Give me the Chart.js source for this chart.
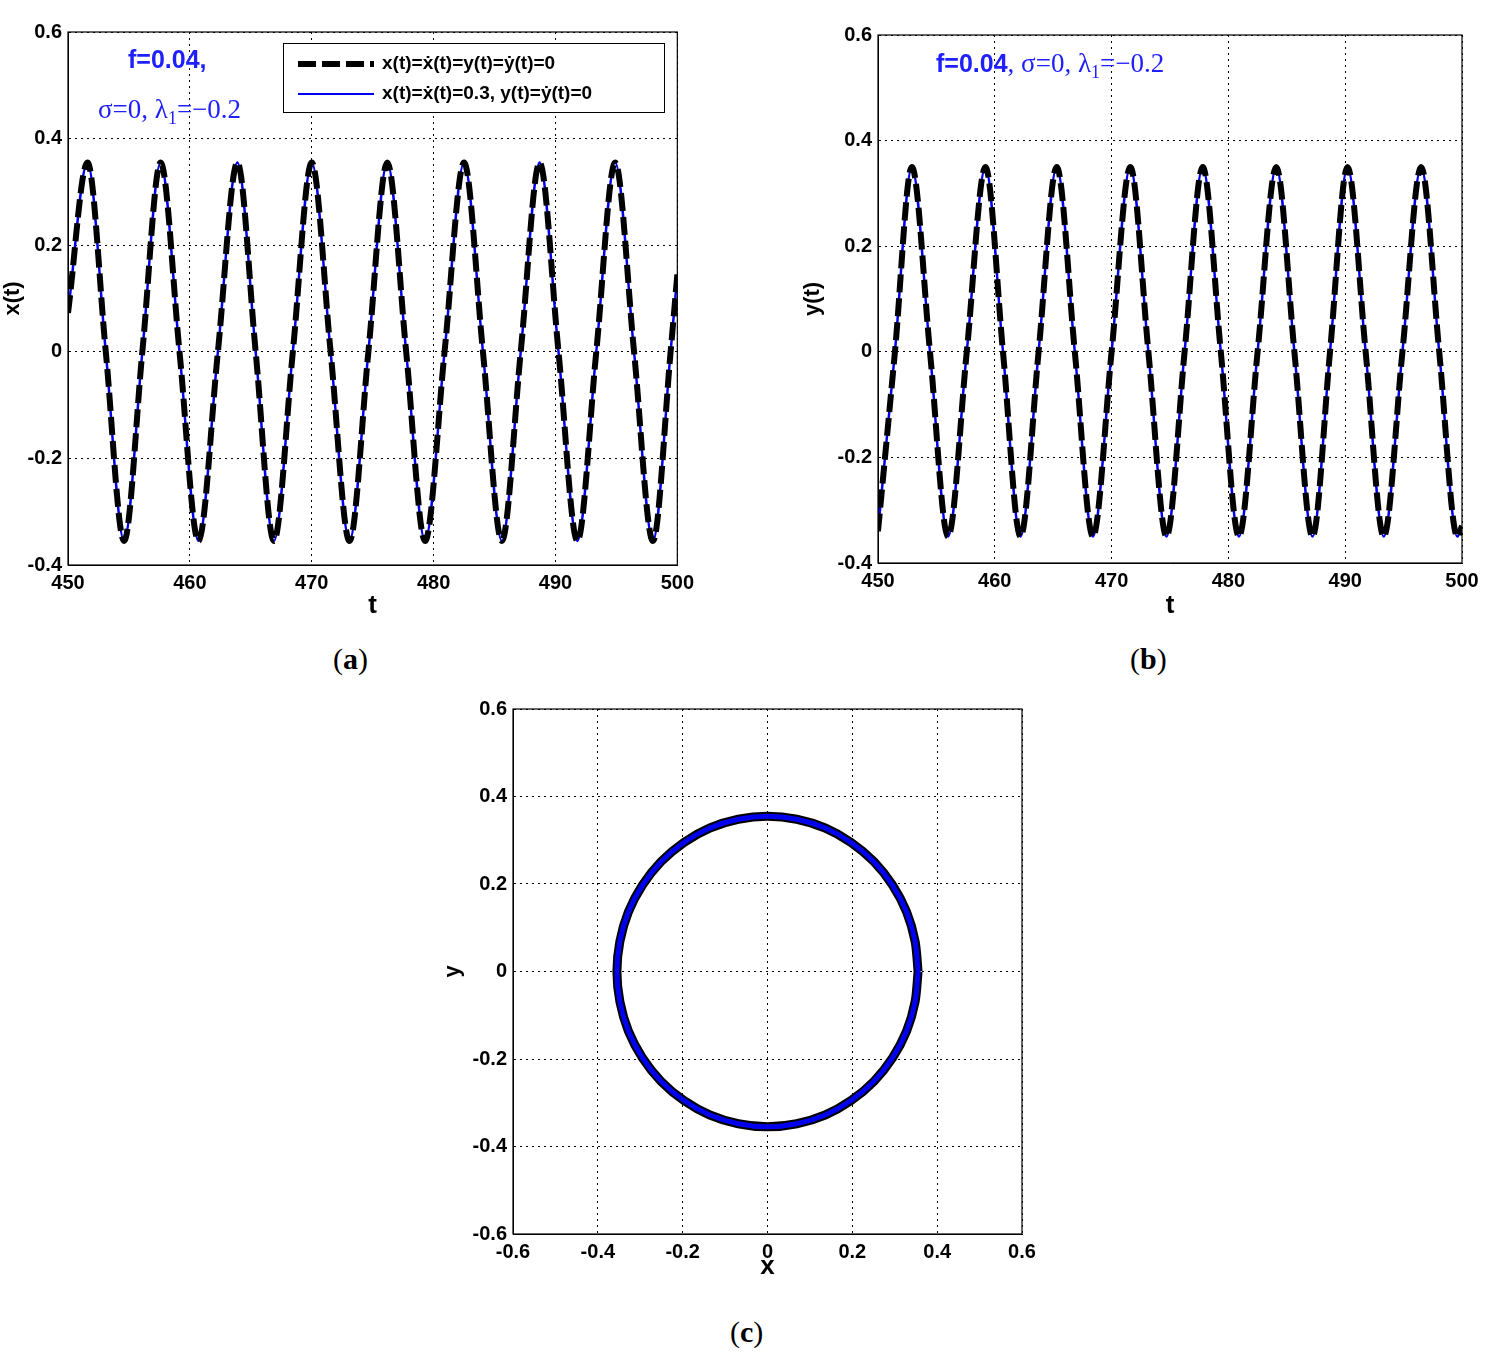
<!DOCTYPE html>
<html><head><meta charset="utf-8">
<script src="https://cdn.jsdelivr.net/npm/chart.js@4"></script>
<style>
body{margin:0;background:#fff;width:1500px;height:1367px;position:relative;font-family:"Liberation Sans",Arial,sans-serif;}
canvas{position:absolute;}
.cap{position:absolute;font-family:"Liberation Serif",serif;font-size:30px;}
.ann{position:absolute;color:#2020ff;white-space:nowrap;}
.leg{position:absolute;left:283px;top:43px;width:380px;height:68px;border:1px solid #000;background:#fff;font-weight:bold;font-size:19px;}
.leg div{position:absolute;left:98px;}
</style></head><body>
<canvas id="ca" width="700" height="625" style="left:0;top:0"></canvas>
<canvas id="cb" width="700" height="625" style="left:800px;top:0"></canvas>
<canvas id="cc" width="620" height="600" style="left:440px;top:686px"></canvas>
<div class="cap" style="left:333px;top:642px">(<b>a</b>)</div>
<div class="cap" style="left:1130px;top:642px">(<b>b</b>)</div>
<div class="cap" style="left:730px;top:1315px">(<b>c</b>)</div>
<div class="ann" style="left:128px;top:45px;font-weight:bold;font-size:25px">f=0.04,</div>
<div class="ann" style="left:98px;top:94px;font-family:'Liberation Serif',serif;font-size:27px">σ=0, λ<sub style="font-size:18px">1</sub>=−0.2</div>
<div class="ann" style="left:936px;top:48px;font-size:25px"><b>f=0.04</b><span style="font-family:'Liberation Serif',serif;font-size:27px">, σ=0, λ<sub style="font-size:18px">1</sub>=−0.2</span></div>
<div class="leg">
 <svg width="100" height="68" style="position:absolute;left:0;top:0"><line x1="14" y1="20" x2="90" y2="20" stroke="#000" stroke-width="6" stroke-dasharray="18,6"/><line x1="14" y1="50" x2="90" y2="50" stroke="#0000ee" stroke-width="2"/></svg>
 <div style="top:8px">x(t)=ẋ(t)=y(t)=ẏ(t)=0</div>
 <div style="top:38px">x(t)=ẋ(t)=0.3, y(t)=ẏ(t)=0</div>
</div>
<script>
const tA=[450,451.6,453.1,454.6,456.1,457.6,459.15,460.7,462.3,463.9,465.4,466.9,468.45,470.0,471.55,473.1,474.65,476.2,477.75,479.3,480.9,482.5,484.05,485.6,487.15,488.7,490.25,491.8,493.35,494.9,496.45,498.0,499.45,500];
const xA=[0.073,0.355,0,-0.355,0,0.355,0,-0.355,0,0.355,0,-0.355,0,0.355,0,-0.355,0,0.355,0,-0.355,0,0.355,0,-0.355,0,0.355,0,-0.355,0,0.355,0,-0.355,0,0.145];
const tB=[450,451.45,452.9,454.45,456.0,457.6,459.2,460.7,462.2,463.75,465.3,466.85,468.4,470.0,471.6,473.15,474.7,476.25,477.8,479.35,480.9,482.5,484.1,485.65,487.2,488.7,490.2,491.75,493.3,494.9,496.5,498.05,499.6,500];
const yB=[-0.34,0,0.35,0,-0.35,0,0.35,0,-0.35,0,0.35,0,-0.35,0,0.35,0,-0.35,0,0.35,0,-0.35,0,0.35,0,-0.35,0,0.35,0,-0.35,0,0.35,0,-0.35,-0.33];
const cX=[0.355,0.348,0.328,0.295,0.251,0.197,0.136,0.069,0,-0.069,-0.136,-0.197,-0.251,-0.295,-0.328,-0.348,-0.355,-0.348,-0.328,-0.295,-0.251,-0.197,-0.136,-0.069,0,0.069,0.136,0.197,0.251,0.295,0.328,0.348,0.355];
const cY=[0,0.069,0.136,0.197,0.251,0.295,0.328,0.348,0.355,0.348,0.328,0.295,0.251,0.197,0.136,0.069,0,-0.069,-0.136,-0.197,-0.251,-0.295,-0.328,-0.348,-0.355,-0.348,-0.328,-0.295,-0.251,-0.197,-0.136,-0.069,0];
const tTicks=[450,460,470,480,490,500];
const vTicks=[-0.4,-0.2,0,0.2,0.4,0.6];
const cTicks=[-0.6,-0.4,-0.2,0,0.2,0.4,0.6];

function pts(xs,ys){return xs.map((x,i)=>({x:x,y:ys[i]}));}
function fmt(v){return Math.abs(v)<1e-9?'0':String(Math.round(v*10)/10);}
const tickFont={family:'"Liberation Sans",Arial',size:20,weight:'bold'};
function make(id,data,xr,yr,xt,yt,xl,yl,pad,yw,xh,closed){
  const mode=closed?'default':'monotone', ten=closed?0.3:0;
  const ds=[{data:data,borderColor:'#000',borderWidth:closed?9:6,borderDash:closed?[]:[18,6],pointRadius:0,showLine:true,cubicInterpolationMode:mode,tension:ten,order:closed?2:1},
            {data:data,borderColor:'#0000ee',borderWidth:closed?5:2.5,pointRadius:0,showLine:true,cubicInterpolationMode:mode,tension:ten,order:closed?1:2}];
  const grid={color:'#000',lineWidth:1,drawTicks:false};
  const border={display:true,color:'#000',width:1,dash:[2,4]};
  new Chart(document.getElementById(id),{type:'scatter',data:{datasets:ds},
   options:{responsive:false,animation:false,devicePixelRatio:1,layout:{padding:pad},
    plugins:{legend:{display:false},tooltip:{enabled:false}},
    scales:{
     x:{type:'linear',min:xr[0],max:xr[1],afterBuildTicks:s=>{s.ticks=xt.map(v=>({value:v}));},afterFit:s=>{s.height=xh;},
        ticks:{font:tickFont,color:'#000',padding:6,maxRotation:0,callback:v=>fmt(v)},grid:grid,border:border,
        title:{display:true,text:xl,font:{family:'"Liberation Sans",Arial',size:26,weight:'bold'},color:'#000',padding:{top:-6}}},
     y:{type:'linear',min:yr[0],max:yr[1],afterBuildTicks:s=>{s.ticks=yt.map(v=>({value:v}));},afterFit:s=>{s.width=yw;},
        ticks:{font:tickFont,color:'#000',padding:6,callback:v=>fmt(v)},grid:grid,border:border,
        title:{display:true,text:yl,font:{family:'"Liberation Sans",Arial',size:22,weight:'bold'},color:'#000',padding:0}}
    }},
   plugins:[{id:'box',afterDraw(c){const a=c.chartArea,g=c.ctx;g.save();g.setLineDash([]);g.strokeStyle='#000';g.lineWidth=1.2;g.strokeRect(a.left,a.top,a.right-a.left,a.bottom-a.top);g.restore();}}]
  });
}
make('ca',pts(tA,xA),[450,500],[-0.4,0.6],tTicks,vTicks,'t','x(t)',{top:32,right:22},68,60,false);
make('cb',pts(tB,yB),[450,500],[-0.4,0.6],tTicks,vTicks,'t','y(t)',{top:35,right:38},78,62,false);
make('cc',pts(cX,cY),[-0.6,0.6],[-0.6,0.6],cTicks,cTicks,'x','y',{top:23,right:38},73,52,true);
</script></body></html>
